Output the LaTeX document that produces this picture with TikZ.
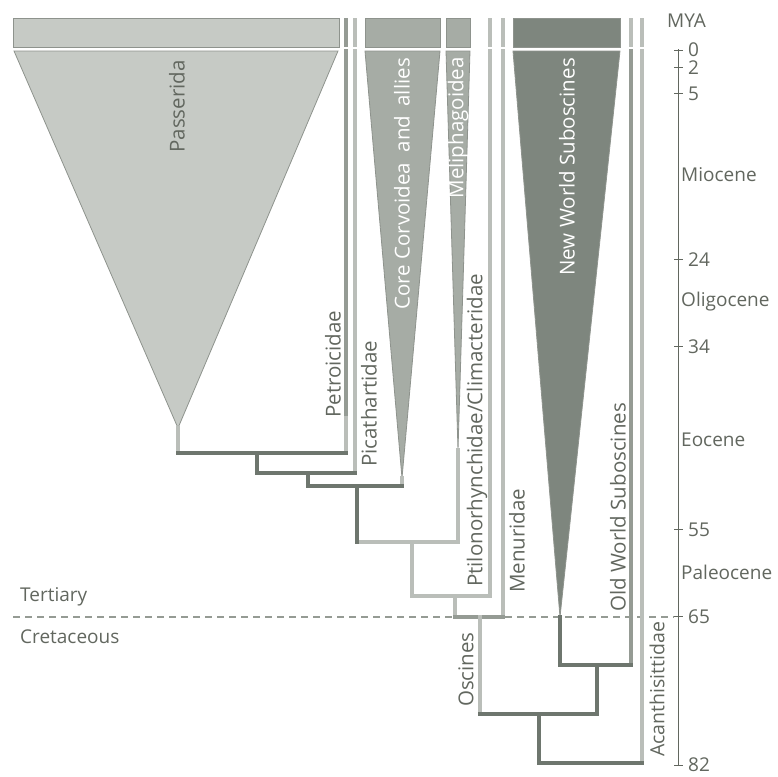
\documentclass[tikz,border=0pt]{standalone}
\usepackage{fontspec}
\setmainfont{Open Sans}
\definecolor{txc}{HTML}{62675F}
\definecolor{lightfill}{HTML}{C6CAC5}
\definecolor{lightedge}{HTML}{8E938D}
\definecolor{corefill}{HTML}{A6ACA5}
\definecolor{nwfill}{HTML}{7E867E}
\definecolor{dkc}{HTML}{6E766E}
\definecolor{ltc}{HTML}{BABEB9}
\definecolor{mdc}{HTML}{959B94}
\begin{document}
\begin{tikzpicture}[x=1pt,y=-1pt,
  dk/.style={draw=dkc,line width=3.6pt,line cap=rect},
  lt/.style={draw=ltc,line width=3.6pt,line cap=rect},
  md/.style={draw=mdc,line width=3.6pt,line cap=rect},
  stub/.style={draw=ltc,line width=4pt},
  clade/.style={draw=lightedge,line width=0.8pt},
  lbl/.style={font=\fontsize{20.5}{24}\selectfont,text=txc,inner sep=0pt,rotate=90},
  wlbl/.style={font=\fontsize{20.5}{24}\selectfont,text=white,inner sep=0pt,rotate=90},
  axl/.style={font=\fontsize{19}{23}\selectfont,text=txc,inner sep=0pt,anchor=west}]
\useasboundingbox (0,0) rectangle (777,777);
\fill[white] (0,0) rectangle (777,777);
% boundary
\draw[draw=mdc,line width=1.1pt,dash pattern=on 7pt off 5pt] (13,617) -- (674,617);
\node[axl] (tert) at (20,597) {Tertiary};
\node[axl] (cret) at (20,637) {Cretaceous};
% top boxes and clades
\draw[clade,fill=lightfill] (13,18) rectangle (339,47);
\draw[clade,fill=lightfill] (14,51) -- (338,51) -- (178,428) -- cycle;
\draw[clade,fill=corefill] (365,18) rectangle (440,47);
\draw[clade,fill=corefill] (365,51) -- (440,51) -- (402,478) -- cycle;
\draw[clade,fill=corefill] (446,18) rectangle (470,47);
\draw[clade,fill=corefill] (446,51) -- (470,51) -- (458,450) -- cycle;
\draw[clade,fill=nwfill] (513,18) rectangle (620,47);
\draw[clade,fill=nwfill] (513,51) -- (620,51) -- (560,617) -- cycle;
\draw[draw=mdc,line width=4pt] (345.5,18) -- (345.5,47);
\foreach \x in {355,490,503,631,642} \draw[stub] (\x,18) -- (\x,47);
% coordinates
\coordinate (pas) at (178,428); \coordinate (pasJ) at (178,453);
\coordinate (pet) at (346,51); \coordinate (petM) at (346,418); \coordinate (petJ) at (346,453);
\coordinate (n1) at (257,453); \coordinate (n1b) at (257,473);
\coordinate (pic) at (355,51); \coordinate (picJ) at (355,473);
\coordinate (n2) at (308,473); \coordinate (n2b) at (308,486);
\coordinate (cor) at (402,478); \coordinate (corJ) at (402,486);
\coordinate (n3) at (357,486); \coordinate (n3b) at (357,542);
\coordinate (mel) at (458,450); \coordinate (melJ) at (458,542);
\coordinate (n4) at (412,542); \coordinate (n4b) at (412,596);
\coordinate (pti) at (490,51); \coordinate (ptiJ) at (490,596);
\coordinate (n5) at (455,596); \coordinate (n5b) at (455,617);
\coordinate (men) at (503,51); \coordinate (menJ) at (503,617);
\coordinate (n6) at (480,617); \coordinate (n6b) at (480,714);
\coordinate (nws) at (560,617); \coordinate (nwsJ) at (560,665);
\coordinate (ows) at (631,51); \coordinate (owsJ) at (631,665);
\coordinate (n7) at (597,665); \coordinate (n7b) at (597,714);
\coordinate (n8) at (539,714); \coordinate (n8b) at (539,763);
\coordinate (aca) at (642,51); \coordinate (acaJ) at (642,763);
% light terminal branches
\draw[lt] (pas) -- (pasJ);
\draw[md] (pet) -- (petM);
\draw[lt] (petM) -- (petJ);
\draw[lt] (pic) -- (picJ);
\draw[lt] (cor) -- (corJ);
\draw[lt] (mel) -- (melJ);
\draw[lt] (pti) -- (ptiJ);
\draw[lt] (men) -- (menJ);
\draw[md] (ows) -- (owsJ);
\draw[lt] (aca) -- (acaJ);
\draw[lt] (n4) -- (n4b);
\draw[lt] (n4b) -- (ptiJ);
\draw[lt] (n3b) -- (melJ);
\draw[lt] (n5) -- (n5b);
\draw[md] (n5b) -- (menJ);
\draw[lt] (n6) -- (n6b);
% dark internal branches
\draw[dk] (pasJ) -- (petJ);
\draw[dk] (n1) -- (n1b) -- (picJ);
\draw[dk] (n2) -- (n2b) -- (corJ);
\draw[dk] (n3) -- (n3b);
\draw[dk] (nws) -- (nwsJ) -- (owsJ);
\draw[dk] (n7) -- (n7b) -- (n6b);
\draw[dk] (n8) -- (n8b) -- (acaJ);
% clade labels
\node[lbl,anchor=east] (lpas) at (177,60) {Passerida};
\node[lbl,anchor=west] (lpet) at (333,418) {Petroicidae};
\node[lbl,anchor=west] (lpic) at (369,467) {Picathartidae};
\node[wlbl,anchor=east] (lcor) at (402,58) {Core Corvoidea\hspace{5pt} and\hspace{4pt} allies};
\node[wlbl,anchor=east] (lmel) at (458,57) {Meliphagoidea};
\node[lbl,anchor=west] (lpti) at (477,587) {Ptilonorhynchidae/Climacteridae};
\node[lbl,anchor=west] (lmen) at (517,593) {Menuridae};
\node[wlbl,anchor=east] (lnws) at (567,58) {New World Suboscines};
\node[lbl,anchor=west] (lows) at (618,612) {Old World Suboscines};
\node[lbl,anchor=west] (losc) at (466,707) {Oscines};
\node[lbl,anchor=west,font=\fontsize{19.5}{23}\selectfont] (laca) at (657,757) {Acanthisittidae};
% time axis
\draw[draw=txc,line width=1pt] (678,49) -- (678,765);
\node[axl] (mya) at (667,21) {MYA};
\foreach \t/\yy in {0/50,2/67.4,5/93.6,24/259.3,34/346.5,55/529.6,65/616.8,82/765}{
  \draw[draw=txc,line width=1pt] (674,\yy) -- (683,\yy);
  \node[axl] at (688,\yy) {\t};
}
\node[axl] (mio) at (681,175) {Miocene};
\node[axl] (oli) at (681,302) {Oligocene};
\node[axl] (eoc) at (681,440) {Eocene};
\node[axl] (pal) at (681,572) {Paleocene};
\end{tikzpicture}
\end{document}
